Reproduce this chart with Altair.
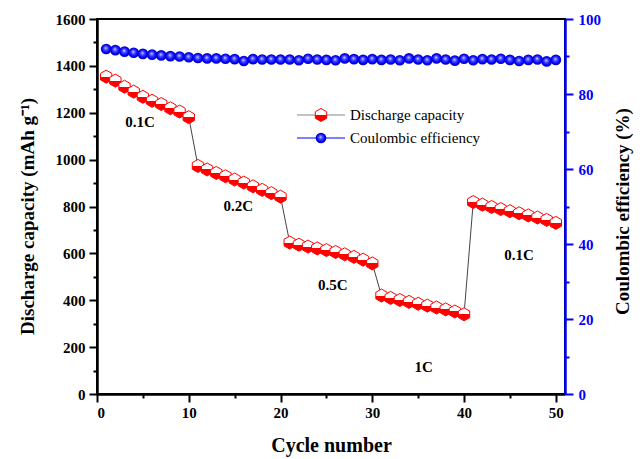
import altair as alt
import pandas as pd

cycles = list(range(1, 51))
capacity = [1354, 1337, 1311, 1290, 1268, 1251, 1237, 1219, 1205, 1181,
            973, 958, 943, 929, 915, 902, 886, 871, 857, 842,
            646, 637, 629, 621, 614, 606, 596, 585, 573, 557,
            420, 410, 401, 393, 385, 377, 369, 361, 352, 340,
            819, 808, 798, 789, 780, 771, 762, 753, 743, 730]
efficiency = [92.0, 91.7, 91.3, 91.0, 90.7, 90.5, 90.3, 90.1, 90.0, 89.8,
              89.6, 89.5, 89.5, 89.4, 89.3, 88.8, 89.3, 89.2, 89.2, 89.2,
              89.2, 89.0, 89.4, 89.2, 89.1, 89.0, 89.5, 89.3, 89.1, 89.3,
              89.1, 89.2, 89.0, 89.5, 89.2, 89.0, 89.5, 89.2, 88.9, 89.4,
              89.0, 89.3, 89.2, 89.4, 89.1, 88.8, 89.1, 89.2, 88.7, 89.1]
rate_labels = ["0.1C", "0.2C", "0.5C", "1C", "0.1C"]
rate_x = [4.7, 15.4, 25.7, 35.6, 46.0]
rate_y = [1161, 802, 465, 115, 593]
legend_names = ["Discharge capacity", "Coulombic efficiency"]

df = pd.DataFrame({"cycle": cycles, "capacity": capacity, "efficiency": efficiency})
lab = pd.DataFrame({"cycle": rate_x, "capacity": rate_y, "label": rate_labels})

FONT = "Liberation Serif"
HEX = "M0,-1L0.87,-0.5L0.87,0.5L0,1L-0.87,0.5L-0.87,-0.5Z"

red_fill = alt.Gradient(
    gradient="linear",
    stops=[alt.GradientStop(offset=0, color="#ffffff"),
           alt.GradientStop(offset=0.5, color="#ffffff"),
           alt.GradientStop(offset=0.5, color="#ff0000"),
           alt.GradientStop(offset=1, color="#ff0000")],
    x1=0, x2=0, y1=0, y2=1)
blue_fill = alt.Gradient(
    gradient="radial",
    stops=[alt.GradientStop(offset=0, color="#dcdcff"),
           alt.GradientStop(offset=0.35, color="#4a4aff"),
           alt.GradientStop(offset=0.75, color="#0000ff"),
           alt.GradientStop(offset=1, color="#0000b4")],
    x1=0.45, y1=0.4, r1=0, x2=0.5, y2=0.5, r2=0.5)

x_axis = alt.Axis(
    values=list(range(0, 51, 5)),
    labelExpr="datum.value % 10 === 0 ? '' + datum.value : ''",
    tickSize={"condition": {"test": "datum.value % 10 === 0", "value": 8}, "value": 4},
    labelFontSize=15, labelPadding=3, labelOverlap=False,
    domainColor="black", tickColor="black", domainWidth=2.5, tickWidth=2,
    labelColor="black", titleFontSize=20, titleX=234, titleY=51,
    titleAlign="center", titleBaseline="middle", orient="bottom")
X = alt.X("cycle:Q", scale=alt.Scale(domain=[0, 51], nice=False, zero=False),
          axis=x_axis, title="Cycle number")

left_axis = alt.Axis(
    values=list(range(0, 1601, 100)),
    labelExpr="datum.value % 200 === 0 ? '' + datum.value : ''",
    tickSize={"condition": {"test": "datum.value % 200 === 0", "value": 8}, "value": 4},
    labelFontSize=15, labelPadding=4, labelOverlap=False,
    domainColor="black", tickColor="black", domainWidth=2.5, tickWidth=2,
    labelColor="black", titleFontSize=19, titleX=-70, titleY=197, titleAngle=270,
    titleAlign="center", titleBaseline="middle", orient="left")
YL = alt.Y("capacity:Q", scale=alt.Scale(domain=[0, 1600], nice=False),
           axis=left_axis, title="Discharge capacity (mAh g⁻¹)")

right_axis = alt.Axis(
    values=list(range(0, 101, 10)),
    labelExpr="datum.value % 20 === 0 ? '' + datum.value : ''",
    tickSize={"condition": {"test": "datum.value % 20 === 0", "value": 8}, "value": 4},
    labelFontSize=15, labelPadding=5, labelOverlap=False,
    domainColor="#0000ff", tickColor="#0000ff", domainWidth=2.5, tickWidth=2,
    labelColor="#0000ff", titleColor="black", titleFontSize=19, titleX=57, titleY=192,
    titleAngle=270, titleAlign="center", titleBaseline="middle", orient="right")
YR = alt.Y("efficiency:Q", scale=alt.Scale(domain=[0, 100], nice=False),
           axis=right_axis, title="Coulombic efficiency (%)")

base = alt.Chart(df)

red_line = base.mark_line(color="#444444", strokeWidth=1).encode(x=X, y=YL)
red_pts = base.mark_point(shape=HEX, size=170, fill=red_fill, stroke="#ff0000",
                          strokeWidth=1, opacity=1, filled=False).encode(x=X, y=YL)
rate_text = alt.Chart(lab).mark_text(font=FONT, fontSize=15, fontWeight="bold",
                                     color="black").encode(x=X, y=YL, text="label:N")

leg1 = pd.DataFrame({"name": [legend_names[0]]})
leg2 = pd.DataFrame({"name": [legend_names[1]]})
leg_red_rule = alt.Chart(leg1).mark_rule(color="#888888", strokeWidth=1.2).encode(
    x=alt.value(200), x2=alt.value(248), y=alt.value(96))
leg_red_pt = alt.Chart(leg1).mark_point(shape=HEX, size=170, fill=red_fill, stroke="#ff0000",
                                        strokeWidth=1, opacity=1).encode(
    x=alt.value(224), y=alt.value(96))
leg_red_txt = alt.Chart(leg1).mark_text(font=FONT, fontSize=15, align="left",
                                        baseline="middle", color="black").encode(
    x=alt.value(253), y=alt.value(96), text="name:N")
leg_blue_rule = alt.Chart(leg2).mark_rule(color="#0000ff", strokeWidth=1.2).encode(
    x=alt.value(200), x2=alt.value(248), y=alt.value(119))
leg_blue_pt = alt.Chart(leg2).mark_point(shape="circle", size=115, fill=blue_fill,
                                         strokeWidth=0, opacity=1).encode(
    x=alt.value(224), y=alt.value(119))
leg_blue_txt = alt.Chart(leg2).mark_text(font=FONT, fontSize=15, align="left",
                                         baseline="middle", color="black").encode(
    x=alt.value(253), y=alt.value(119), text="name:N")

left = alt.layer(red_line, red_pts, rate_text, leg_red_rule, leg_red_pt, leg_red_txt,
                 leg_blue_rule, leg_blue_pt, leg_blue_txt)

blue_line = base.mark_line(color="#0000ff", strokeWidth=1).encode(x=X, y=YR)
blue_pts = base.mark_point(shape="circle", size=115, fill=blue_fill, strokeWidth=0,
                           opacity=1).encode(x=X, y=YR)
right = alt.layer(blue_line, blue_pts)

chart = alt.layer(left, right).resolve_scale(y="independent").properties(
    width=468, height=375,
    padding={"left": 97, "top": 19, "right": 75, "bottom": 65},
    autosize=alt.AutoSizeParams(type="none"),
    background="white",
).configure_view(stroke="black", strokeWidth=2).configure_axis(
    labelFont=FONT, titleFont=FONT, labelFontWeight="bold", titleFontWeight="bold",
    grid=False)

chart.save("out.html", embed_options={"renderer": "svg", "actions": False})
